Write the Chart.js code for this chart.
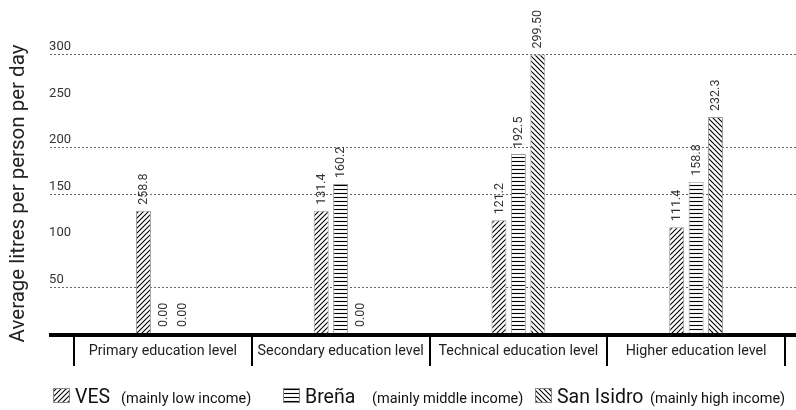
<!DOCTYPE html>
<html>
<head>
<meta charset="utf-8">
<script src="https://cdn.jsdelivr.net/npm/chart.js@4.4.0/dist/chart.umd.min.js"></script>
<style>
	html, body { margin: 0; padding: 0; background: #fff; }
	#wrap { width: 796px; height: 410px; }
</style>
</head>
<body>
<div id="wrap"><canvas id="chart" width="796" height="410"></canvas></div>
<script>
const categories = ['Primary education level', 'Secondary education level', 'Technical education level', 'Higher education level'];
const seriesNames = ['VES', 'Breña', 'San Isidro'];
const seriesNotes = ['(mainly low income)', '(mainly middle income)', '(mainly high income)'];

// bar heights as drawn in the picture
const vesValues = [131.4, 131.4, 121.2, 113.8];
const brenaValues = [0, 160.2, 192.5, 162.7];
const sanIsidroValues = [0, 0, 299.5, 232.3];

// value labels as printed above the bars
const vesLabels = ['258.8', '131.4', '121.2', '111.4'];
const brenaLabels = ['0.00', '160.2', '192.5', '158.8'];
const sanIsidroLabels = ['0.00', '0.00', '299.50', '232.3'];

const dottedLines = [50, 150, 200, 300];

const FONT = 'Roboto, "Noto Sans", sans-serif';

function makePattern(kind) {
	const size = kind === 'horizontal' ? 4 : 5;
	const tile = document.createElement('canvas');
	tile.width = size;
	tile.height = size;
	const c = tile.getContext('2d');
	c.fillStyle = '#fff';
	c.fillRect(0, 0, size, size);
	c.strokeStyle = '#000';
	c.lineWidth = 1.1;
	c.beginPath();
	if (kind === 'forward') {
		c.moveTo(-1, size + 1); c.lineTo(size + 1, -1);
		c.moveTo(-1, 1); c.lineTo(1, -1);
		c.moveTo(size - 1, size + 1); c.lineTo(size + 1, size - 1);
	} else if (kind === 'back') {
		c.moveTo(-1, -1); c.lineTo(size + 1, size + 1);
		c.moveTo(size - 1, -1); c.lineTo(size + 1, 1);
		c.moveTo(-1, size - 1); c.lineTo(1, size + 1);
	} else {
		c.moveTo(0, 1.5); c.lineTo(size, 1.5);
	}
	c.stroke();
	return c.createPattern(tile, 'repeat');
}

const ctx = document.getElementById('chart').getContext('2d');
const patterns = [makePattern('forward'), makePattern('horizontal'), makePattern('back')];
const valueLabels = [vesLabels, brenaLabels, sanIsidroLabels];

const gridPlugin = {
	id: 'dottedGrid',
	beforeDatasetsDraw(chart) {
		const y = chart.scales.y;
		const c = chart.ctx;
		c.save();
		c.strokeStyle = '#666';
		c.lineWidth = 1;
		c.setLineDash([2, 2]);
		dottedLines.forEach((v) => {
			const py = Math.round(y.getPixelForValue(v)) + 0.5;
			c.beginPath();
			c.moveTo(50, py);
			c.lineTo(chart.width, py);
			c.stroke();
		});
		c.restore();
	},
	afterDraw(chart) {
		const c = chart.ctx;
		const base = chart.scales.y.getPixelForValue(0);
		c.save();
		c.fillStyle = '#000';
		c.fillRect(49, base, chart.width - 49, 4);
		c.restore();
	},
};

const barLabelPlugin = {
	id: 'barLabels',
	afterDatasetsDraw(chart) {
		const c = chart.ctx;
		c.save();
		c.font = '12.5px ' + FONT;
		c.fillStyle = '#333';
		c.textAlign = 'left';
		c.textBaseline = 'middle';
		chart.data.datasets.forEach((ds, i) => {
			chart.getDatasetMeta(i).data.forEach((bar, j) => {
				c.save();
				c.translate(bar.x + 0.5, bar.y - 6);
				c.rotate(-Math.PI / 2);
				c.fillText(valueLabels[i][j], 0, 0);
				c.restore();
			});
		});
		c.restore();
	},
};

const legendX = [53, 283, 535];
const legendNoteX = [121, 372, 650];
const legendPlugin = {
	id: 'patternLegend',
	afterDraw(chart) {
		const c = chart.ctx;
		c.save();
		chart.data.datasets.forEach((ds, i) => {
			const x = legendX[i];
			c.fillStyle = ds.backgroundColor;
			c.fillRect(x, 388, 16, 14);
			c.strokeStyle = '#888';
			c.lineWidth = 1;
			c.strokeRect(x + 0.5, 388.5, 16, 14);
			c.fillStyle = '#111';
			c.textBaseline = 'alphabetic';
			c.textAlign = 'left';
			c.font = '19.5px ' + FONT;
			c.fillText(ds.label, x + 22, 403);
			c.font = '14.5px ' + FONT;
			c.fillText(seriesNotes[i], legendNoteX[i], 403);
		});
		c.restore();
	},
};

const datasets = [vesValues, brenaValues, sanIsidroValues].map((values, i) => ({
	label: seriesNames[i],
	data: values,
	backgroundColor: patterns[i],
	borderColor: '#999',
	borderWidth: 1,
	borderSkipped: 'bottom',
	categoryPercentage: 0.328,
	barPercentage: 0.77,
}));

new Chart(ctx, {
	type: 'bar',
	data: { labels: categories, datasets },
	options: {
		responsive: false,
		animation: false,
		devicePixelRatio: 1,
		layout: { padding: { top: 54, right: 11, left: 0, bottom: 0 } },
		plugins: {
			legend: { display: false },
			tooltip: { enabled: false },
		},
		scales: {
			x: {
				grid: {
					display: true,
					drawOnChartArea: false,
					drawTicks: true,
					tickLength: 33,
					color: '#000',
					lineWidth: 2,
					offset: true,
				},
				border: { display: false },
				ticks: {
					font: { family: FONT, size: 14.3 },
					color: '#222',
					padding: -23,
					maxRotation: 0,
					autoSkip: false,
				},
				afterFit(scale) {
					scale.height = 77;
				},
			},
			y: {
				min: 0,
				max: 300,
				grid: { display: false, drawTicks: false },
				border: { display: false },
				ticks: {
					stepSize: 50,
					padding: 3,
					labelOffset: -7,
					font: { family: FONT, size: 13 },
					color: '#333',
					callback: (v) => (v === 0 ? '' : v < 100 ? v + '\u2007' : String(v)),
				},
				title: {
					display: true,
					text: 'Average litres per person per day',
					font: { family: FONT, size: 20.5 },
					color: '#222',
					padding: { top: 7, bottom: 0 },
				},
				afterFit(scale) {
					scale.width = 74;
				},
			},
		},
	},
	plugins: [gridPlugin, barLabelPlugin, legendPlugin],
});
</script>
</body>
</html>
